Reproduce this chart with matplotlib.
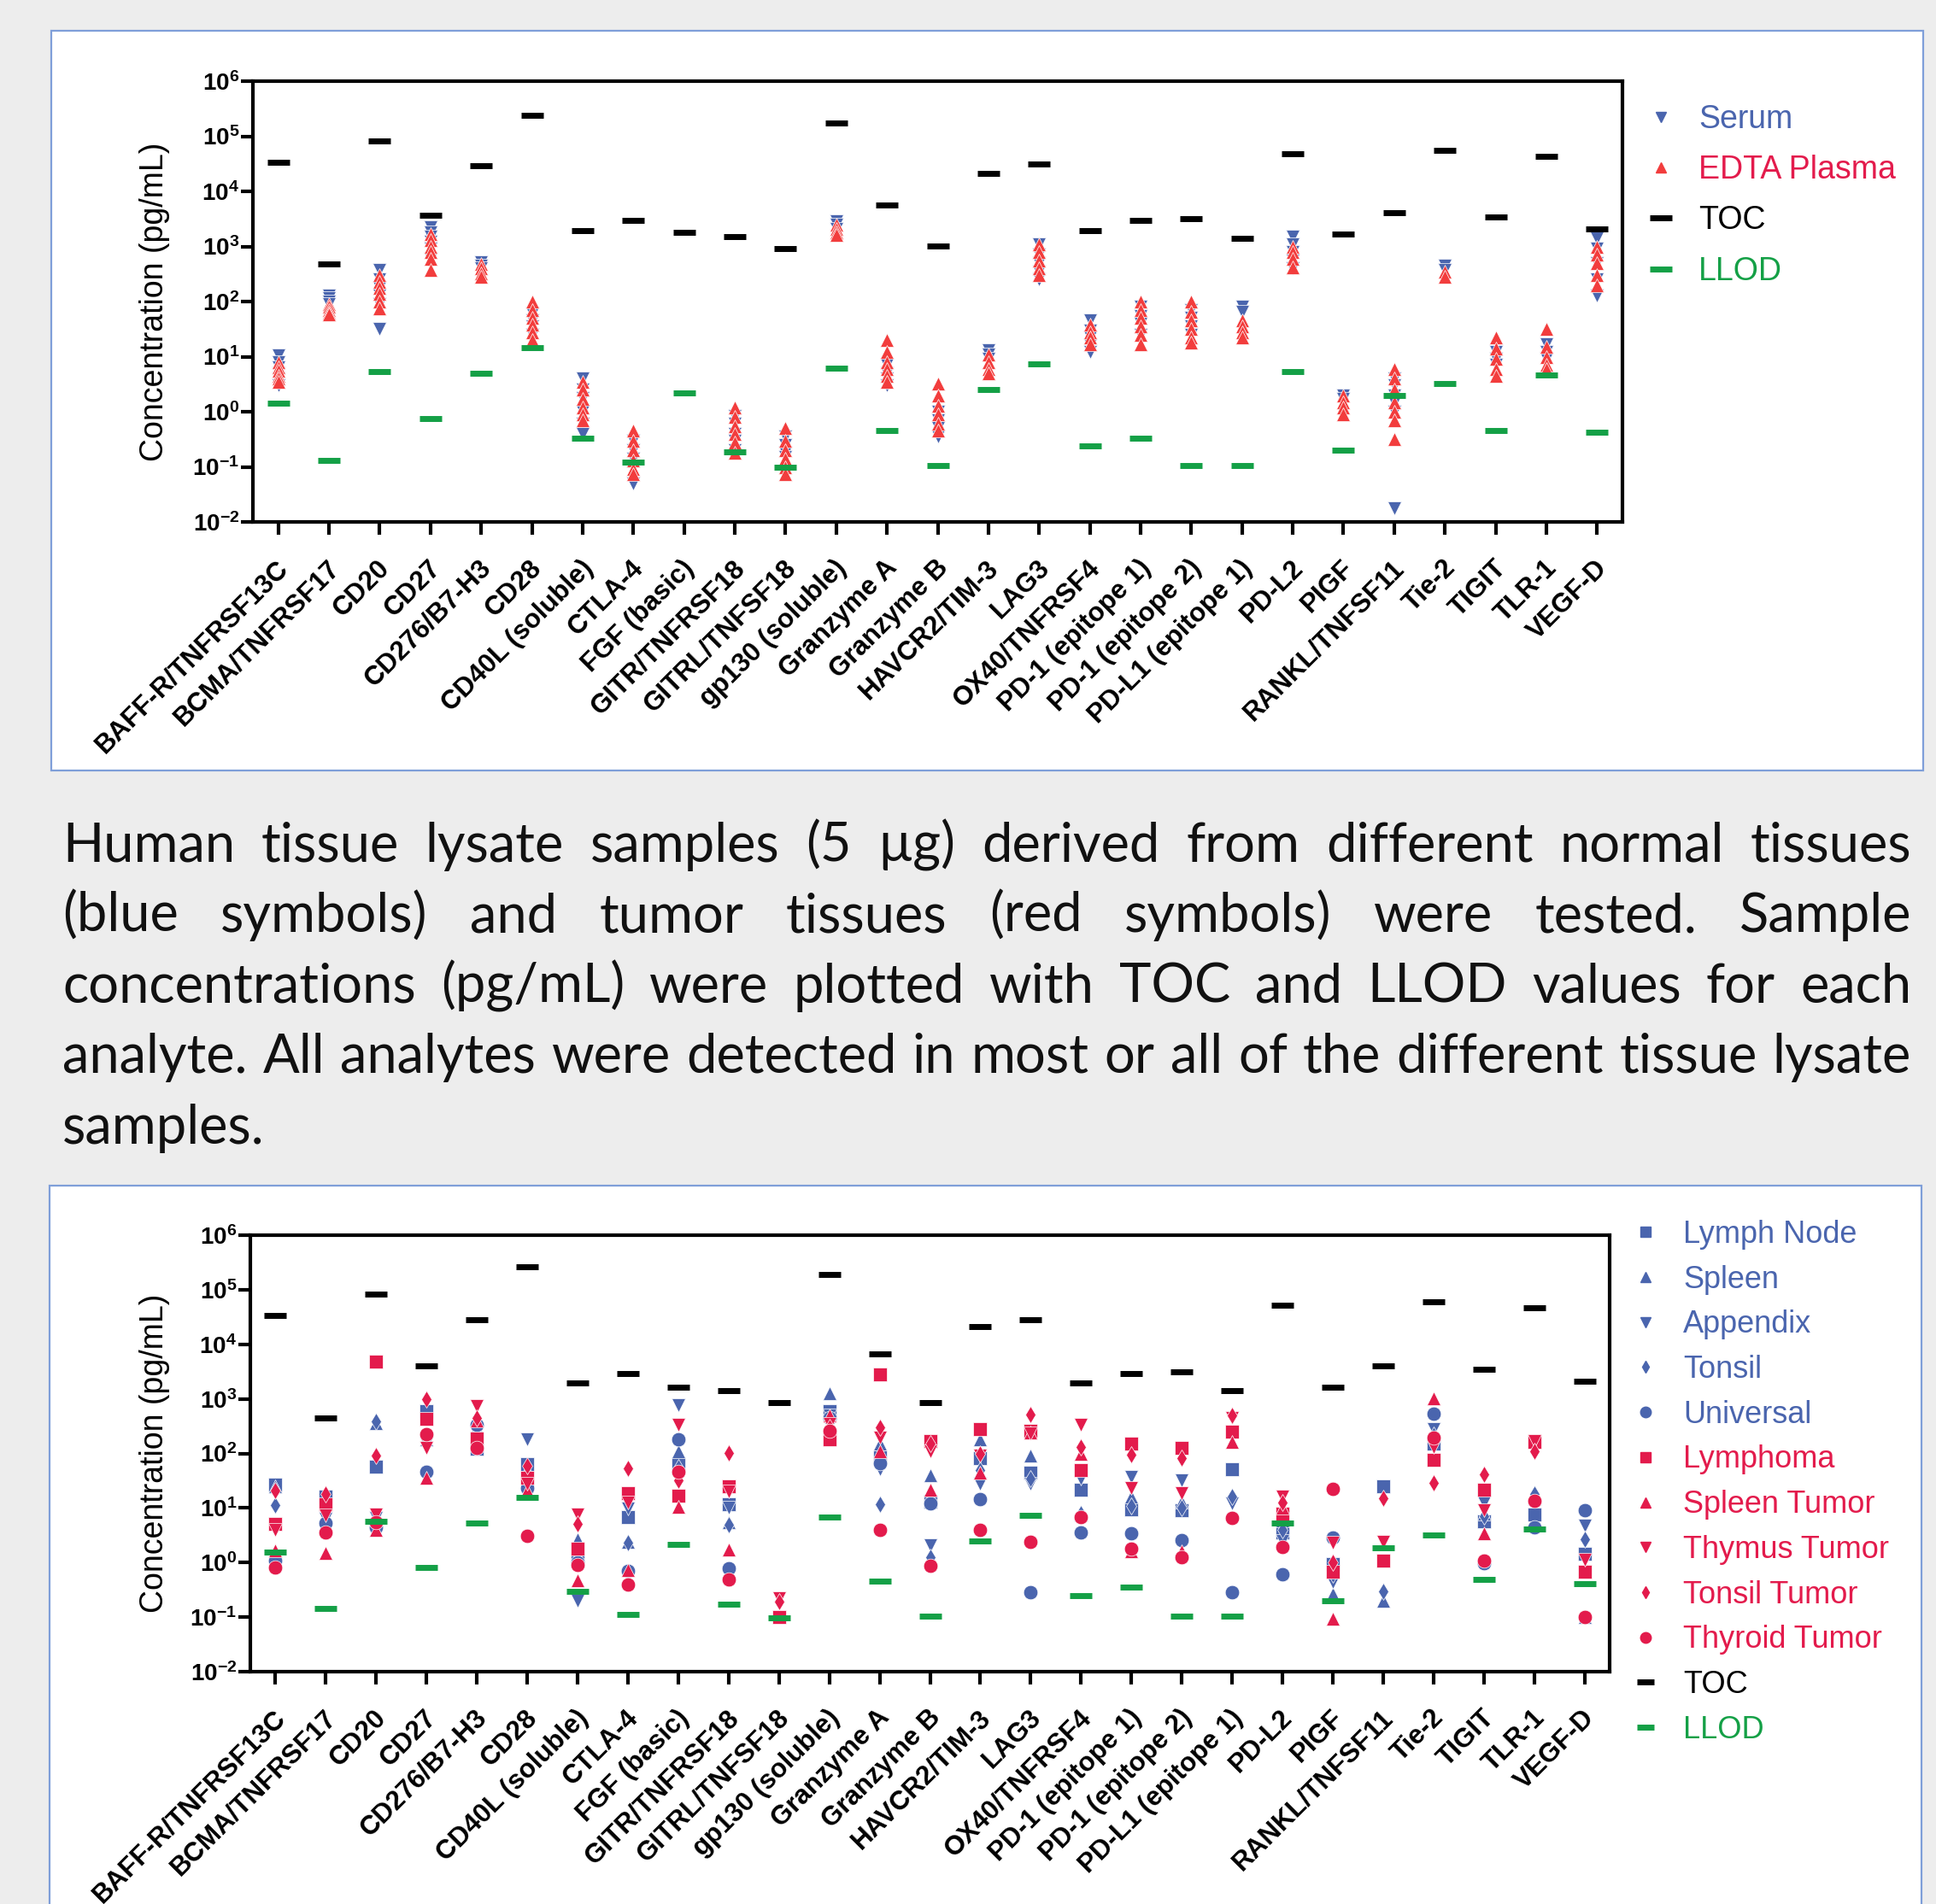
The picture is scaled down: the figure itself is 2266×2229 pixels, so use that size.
import numpy as np
import matplotlib
matplotlib.use('Agg')
import matplotlib.pyplot as plt
from matplotlib.lines import Line2D
from matplotlib.patches import Rectangle
from matplotlib.transforms import ScaledTranslation
from matplotlib.ticker import FixedLocator, FuncFormatter, NullLocator

W, H, DPI = 2266, 2229, 100

analytes = ['BAFF-R/TNFRSF13C', 'BCMA/TNFRSF17', 'CD20', 'CD27', 'CD276/B7-H3', 'CD28',
            'CD40L (soluble)', 'CTLA-4', 'FGF (basic)', 'GITR/TNFRSF18', 'GITRL/TNFSF18',
            'gp130 (soluble)', 'Granzyme A', 'Granzyme B', 'HAVCR2/TIM-3', 'LAG3',
            'OX40/TNFRSF4', 'PD-1 (epitope 1)', 'PD-1 (epitope 2)', 'PD-L1 (epitope 1)',
            'PD-L2', 'PIGF', 'RANKL/TNFSF11', 'Tie-2', 'TIGIT', 'TLR-1', 'VEGF-D']

# ---- top panel: serum / EDTA plasma samples (pg/mL), one list per analyte
serum_vals = [
    [10.5, 8, 6.5, 5, 4, 3], [130, 115, 100, 90], [380, 250, 180, 130, 90, 32],
    [2200, 1800, 1500, 1200, 900, 600], [520, 450, 400], [60, 45, 35, 25],
    [4, 2.5, 1.8, 1, 0.6, 0.4], [0.3, 0.2, 0.14, 0.1, 0.05], [],
    [0.85, 0.6, 0.4, 0.3, 0.2], [0.35, 0.25, 0.18, 0.15], [2900, 2500, 2100],
    [7, 5, 4, 3], [1.0, 0.7, 0.5, 0.35], [13, 11, 9], [1100, 700, 500, 350, 250],
    [45, 30, 22, 16, 12], [80, 55, 40, 25], [70, 50, 35, 25], [80, 65],
    [1500, 1100, 800, 550, 400], [2, 1.7], [4, 3, 2, 1.5, 1, 0.018], [450, 380],
    [12, 9, 7], [17, 12, 9], [1400, 900, 500, 250, 130]]
plasma_vals = [
    [8, 6.5, 5.5, 4.5, 4, 3.5], [90, 80, 70, 62, 58], [300, 230, 180, 140, 100, 75],
    [1700, 1300, 1000, 800, 600, 380], [480, 400, 330, 280], [100, 70, 50, 38, 28, 20],
    [3.5, 2.5, 1.7, 1.2, 0.9, 0.7], [0.45, 0.3, 0.2, 0.13, 0.09, 0.075], [],
    [1.2, 0.8, 0.55, 0.4, 0.28, 0.18], [0.5, 0.3, 0.2, 0.14, 0.1, 0.075],
    [2500, 2100, 1800, 1600], [20, 12, 8, 6, 4.5, 3.5], [3.2, 2, 1.3, 0.9, 0.6, 0.45],
    [11, 8, 6, 5], [1100, 800, 550, 400, 300], [38, 28, 22, 17],
    [100, 70, 50, 35, 25, 17], [100, 65, 45, 32, 22, 18], [45, 35, 28, 22],
    [1000, 800, 600, 420], [2, 1.5, 1.2, 0.9], [6, 4, 2.5, 1.5, 1, 0.7, 0.32],
    [350, 280], [22, 14, 9, 6, 4.5], [32, 15, 10, 7, 6], [1000, 700, 500, 300, 200]]
toc_top = [33800, 480, 83000, 3700, 29000, 240000, 1950, 2950, 1780, 1510, 930, 174000,
           5600, 1010, 20800, 31400, 1950, 2950, 3160, 1400, 47600, 1650, 4060, 55800,
           3440, 43400, 2090]
llod_top = [1.44, 0.13, 5.3, 0.75, 4.9, 14.3, 0.33, 0.123, 2.18, 0.186, 0.097, 6.2, 0.45,
            0.105, 2.55, 7.4, 0.24, 0.33, 0.105, 0.105, 5.4, 0.2, 2.0, 3.3, 0.46, 4.6, 0.42]

# ---- bottom panel: tissue lysates (pg/mL), one value per analyte
nan = np.nan
lymph_node = [27, 16, 57, 590, 120, 63, 1.12, 6.8, 63, 11.8, nan, 590, 86, 13, 81, 44, 22,
              9.6, 9.2, 52, 3.5, 0.95, 24.9, 151, 5.6, 7.7, 1.43]
spleen = [25, 13, 360, 180, 300, 30, 2.7, 2.4, 110, 5.5, nan, 1270, 150, 40, 182, 92, 7.5,
          16, 13, nan, 6, 0.27, 0.197, 250, 8, 15, 0.1]
appendix = [nan, 6.3, 6.5, 150, 250, 182, 0.2, 9.8, 757, 10, nan, 500, 52, 2.1, 28, 28, 35,
            37, 32, 12, 2.5, 0.44, nan, 280, 12.6, nan, 4.7]
tonsil = [11.1, 9, 380, 200, 200, 45, 1.5, 2.3, 55, 5.0, nan, 400, 11.5, 1.26, 50, 35, 8,
          11, 10, 16, 4, 0.6, 0.3, 220, 7, 18, 2.67]
universal = [1.1, 5.3, 4.4, 46, 340, 23, 1.0, 0.7, 181, 0.79, nan, 450, 65, 12, 14.6, 0.29,
             3.5, 3.4, 2.57, 0.29, 0.6, 2.9, nan, 541, 0.99, 4.4, 9.2]
lymphoma = [5.2, 11.8, 4900, 433, 190, 36, 1.8, 19, 17, 25, 0.1, 181, 2790, 171, 280, 257,
            49, 151, 128, 248, 8, 0.68, 1.09, 76, 22, 164, 0.68]
spleen_tumor = [1.7, 1.5, 3.9, 36, 400, 21, 0.47, 0.72, 10.4, 1.73, nan, 490, 110, 22, 44,
                240, 97, 1.6, 1.6, 160, 10, 0.093, nan, 1030, 3.4, nan, nan]
thymus_tumor = [4.0, 7.2, 7.7, 125, 730, 28, 7.7, 12.6, 337, 20, 0.22, 350, 193, 110, 90,
                230, 330, 23, 19, 450, 16, 2.3, 2.36, 133, 9.2, 170, 1.12]
tonsil_tumor = [21, 18, 90, 990, 450, 59, 5.2, 54, 32, 101, 0.19, 300, 298, 150, 100, 508,
                133, 94, 81, 500, 12.6, 1.0, 15.2, 29, 41, 110, nan]
thyroid_tumor = [0.8, 3.5, 5.5, 227, 125, 3.1, 0.9, 0.4, 46, 0.49, nan, 260, 4.0, 0.87, 3.9,
                 2.36, 6.8, 1.8, 1.26, 6.6, 1.9, 22.5, nan, 193, 1.1, 13.4, 0.099]
toc_bot = [34000, 443, 84500, 4040, 28700, 265000, 1940, 2920, 1630, 1390, 857, 190000,
           6640, 857, 20800, 28700, 1940, 2920, 3150, 1390, 51500, 1630, 4040, 60500, 3440,
           47200, 2090]
llod_bot = [1.54, 0.144, 5.75, 0.8, 5.3, 15.5, 0.3, 0.112, 2.16, 0.17, 0.096, 6.8, 0.457,
            0.103, 2.5, 7.4, 0.25, 0.35, 0.103, 0.103, 5.3, 0.197, 1.84, 3.25, 0.49, 4.1, 0.41]

para_lines = [
    'Human tissue lysate samples (5 \u00b5g) derived from different normal tissues',
    '(blue symbols) and tumor tissues (red symbols) were tested. Sample',
    'concentrations (pg/mL) were plotted with TOC and LLOD values for each',
    'analyte. All analytes were detected in most or all of the different tissue lysate',
    'samples.']

BLUE = '#4a65ae'
CRIMSON = '#e31b4c'
PLASMA = '#f23d3d'
GREEN = '#14a046'
BORDER = '#7f9fd9'

plt.rcParams['font.family'] = ['Liberation Sans', 'DejaVu Sans']
plt.rcParams['mathtext.fontset'] = 'custom'
plt.rcParams['mathtext.rm'] = 'Liberation Sans'
plt.rcParams['mathtext.bf'] = 'Liberation Sans:bold'

fig = plt.figure(figsize=(W / DPI, H / DPI), dpi=DPI, facecolor='#ededed')


def fbox(x0, y0, x1, y1):
    return [x0 / W, 1 - y1 / H, (x1 - x0) / W, (y1 - y0) / H]


# white panels with blue frame
for (x0, y0, x1, y1) in [(60, 36, 2251, 902), (58, 1388, 2249, 2260)]:
    r = fbox(x0, y0, x1, y1)
    fig.add_artist(Rectangle((r[0], r[1]), r[2], r[3], transform=fig.transFigure,
                             fc='white', ec=BORDER, lw=1.6, zorder=-1))

ax1 = fig.add_axes(fbox(296, 95, 1899, 611))
ax2 = fig.add_axes(fbox(293, 1446, 1884, 1957))
x = np.arange(len(analytes))


def style(ax):
    ax.set_facecolor('none')
    ax.set_yscale('log')
    ax.set_ylim(1e-2, 1e6)
    ax.set_xlim(-0.5, len(analytes) - 0.5)
    ax.yaxis.set_major_locator(FixedLocator(10.0 ** np.arange(-2, 7)))
    ax.yaxis.set_minor_locator(NullLocator())
    ax.yaxis.set_major_formatter(FuncFormatter(
        lambda v, p: r'$\mathbf{10^{%d}}$' % int(round(np.log10(v)))))
    for s in ax.spines.values():
        s.set_linewidth(3)
    ax.tick_params(axis='y', direction='out', length=10, width=3, pad=1.5, labelsize=20)
    ax.tick_params(axis='x', direction='out', length=11, width=3, pad=17)
    ax.set_xticks(x)
    ax.set_xticklabels(analytes, rotation=45, ha='right', va='top',
                       rotation_mode='anchor', fontsize=22.5, fontweight='bold')
    off = ScaledTranslation(-3 / DPI, 0, fig.dpi_scale_trans)
    for lbl in ax.get_xticklabels():
        lbl.set_transform(lbl.get_transform() + off)


style(ax1)
style(ax2)

# top panel
sx = np.repeat(x, [len(v) for v in serum_vals])
px = np.repeat(x, [len(v) for v in plasma_vals])
ax1.plot(sx, np.concatenate(serum_vals), ls='none', marker='v', ms=12, color=BLUE,
         mec='white', mew=0.5, zorder=3)
ax1.plot(px, np.concatenate(plasma_vals), ls='none', marker='^', ms=12, color=PLASMA,
         mec='white', mew=0.5, zorder=3)
ax1.plot(x, toc_top, ls='none', marker='_', ms=19, mew=5, color='black', zorder=4)
ax1.plot(x, llod_top, ls='none', marker='_', ms=19, mew=5, color=GREEN, zorder=4)

h1 = [Line2D([], [], ls='none', marker='v', ms=9, color=BLUE),
      Line2D([], [], ls='none', marker='^', ms=9, color=PLASMA),
      Line2D([], [], ls='none', marker='_', ms=19, mew=5, color='black'),
      Line2D([], [], ls='none', marker='_', ms=19, mew=5, color=GREEN)]
ax1.legend(h1, ['Serum', 'EDTA Plasma', 'TOC', 'LLOD'], loc='upper left',
           bbox_to_anchor=(1925 / W, 1 - 122 / H), bbox_transform=fig.transFigure,
           frameon=False, fontsize=27, handlelength=1.0, handletextpad=0.68,
           labelspacing=0.62, borderpad=0, borderaxespad=0,
           labelcolor=[BLUE, CRIMSON, 'black', GREEN])

# bottom panel
tissues = [
    ('Lymph Node', lymph_node, 's', 11, BLUE),
    ('Spleen', spleen, '^', 12, BLUE),
    ('Appendix', appendix, 'v', 12, BLUE),
    ('Tonsil', tonsil, 'd', 10, BLUE),
    ('Universal', universal, 'o', 12, BLUE),
    ('Lymphoma', lymphoma, 's', 11, CRIMSON),
    ('Spleen Tumor', spleen_tumor, '^', 12, CRIMSON),
    ('Thymus Tumor', thymus_tumor, 'v', 12, CRIMSON),
    ('Tonsil Tumor', tonsil_tumor, 'd', 10, CRIMSON),
    ('Thyroid Tumor', thyroid_tumor, 'o', 12, CRIMSON),
]
h2, l2, c2 = [], [], []
for name, vals, mk, ms, col in tissues:
    ax2.plot(x, vals, ls='none', marker=mk, ms=ms, color=col, mec='white', mew=0.5,
             zorder=3)
    h2.append(Line2D([], [], ls='none', marker=mk, ms=ms * 0.75, color=col))
    l2.append(name)
    c2.append(col)
ax2.plot(x, toc_bot, ls='none', marker='_', ms=19, mew=5, color='black', zorder=4)
ax2.plot(x, llod_bot, ls='none', marker='_', ms=19, mew=5, color=GREEN, zorder=4)
h2 += [Line2D([], [], ls='none', marker='_', ms=14, mew=5, color='black'),
       Line2D([], [], ls='none', marker='_', ms=14, mew=5, color=GREEN)]
l2 += ['TOC', 'LLOD']
c2 += ['black', GREEN]
ax2.legend(h2, l2, loc='upper left', bbox_to_anchor=(1908 / W, 1 - 1428 / H),
           bbox_transform=fig.transFigure, frameon=False, fontsize=26,
           handlelength=1.0, handletextpad=0.72, labelspacing=0.49, borderpad=0,
           borderaxespad=0, labelcolor=c2)

for yc in (353, 1701):
    fig.text(181 / W, 1 - yc / H, 'Concentration (pg/mL)', rotation=90, ha='center',
             va='center', fontsize=27)

# justified caption between the panels
renderer = fig.canvas.get_renderer()
PFONT = ['Lato', 'DejaVu Sans']
X0, X1 = 73, 2237
baselines = [1009, 1091, 1174, 1256, 1339]


def width(s, fs):
    t = fig.text(0, 0, s, fontsize=fs, family=PFONT)
    w = t.get_window_extent(renderer).width
    t.remove()
    return w


fs = 48
while True:
    sp = width('a a', fs) - width('aa', fs)
    words = para_lines[3].split()
    natural = sum(width(wd, fs) for wd in words) + sp * (len(words) - 1)
    if natural <= (X1 - X0) * 0.995 or fs < 20:
        break
    fs -= 0.5

for k, line in enumerate(para_lines):
    words = line.split()
    ws = [width(wd, fs) for wd in words]
    if k < len(para_lines) - 1:
        gap = (X1 - X0 - sum(ws)) / (len(words) - 1)
    else:
        gap = sp
    xpos = X0
    for wd, w in zip(words, ws):
        fig.text(xpos / W, 1 - baselines[k] / H, wd, fontsize=fs, family=PFONT,
                 ha='left', va='baseline', color='#111111')
        xpos += w + gap

fig.savefig('out.png', dpi=DPI, facecolor=fig.get_facecolor())
